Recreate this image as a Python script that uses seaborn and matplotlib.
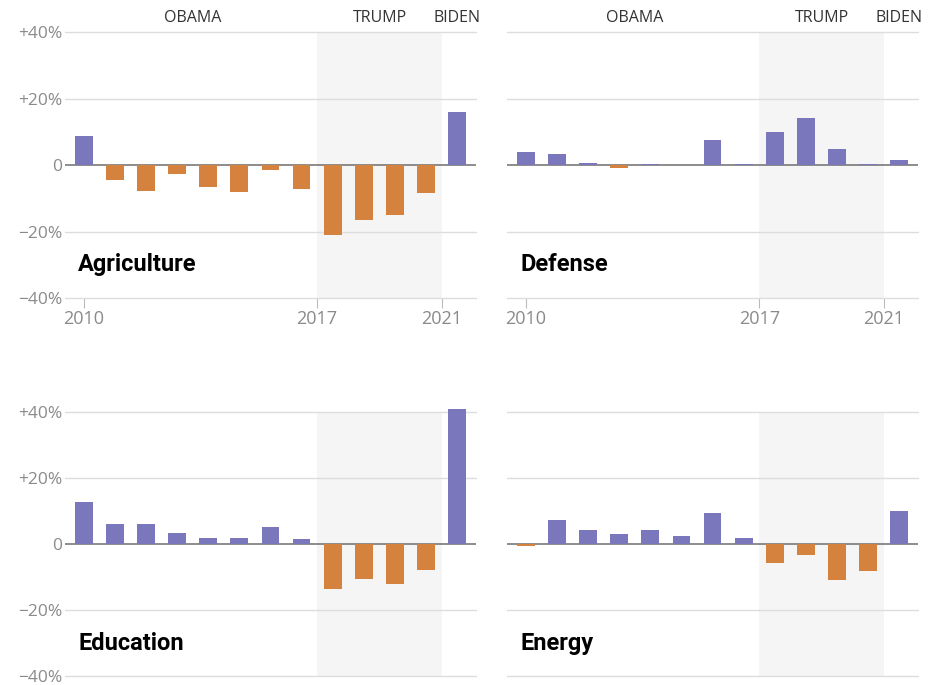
import pandas as pd
import matplotlib
matplotlib.use('Agg')
import matplotlib.pyplot as plt
import seaborn as sns

years = list(range(2010, 2023))

agriculture = [8.7, -4.4, -7.7, -2.7, -6.6, -8.0, -1.4, -7.2, -20.9, -16.4, -14.9, -8.3, 15.9]
defense = [3.8, 3.3, 0.6, -1.0, 0.2, 0.0, 7.6, 0.3, 9.9, 14.1, 4.8, 0.4, 1.5]
education = [12.6, 6.0, 6.0, 3.4, 1.8, 1.8, 5.2, 1.5, -13.6, -10.7, -12.2, -8.0, 40.7]
energy = [-0.6, 7.1, 4.1, 2.9, 4.3, 2.5, 9.4, 1.8, -5.7, -3.5, -10.9, -8.2, 10.0]

panel_names = ['Agriculture', 'Defense', 'Education', 'Energy']
panel_values = [agriculture, defense, education, energy]

y_ticks = [-40, -20, 0, 20, 40]
y_labels = ['\u221240%', '\u221220%', '0', '+20%', '+40%']
x_tick_labels = ['2010', '2017', '2021']
presidents = ['OBAMA', 'TRUMP', 'BIDEN']

PURPLE = '#7b77bd'
ORANGE = '#d4823e'
GRAY_TXT = '#8a8a8a'

sns.set_style('white')
plt.rcParams['font.family'] = ['Open Sans', 'DejaVu Sans']

fig = plt.figure(figsize=(9.32, 6.85), dpi=100)

# axes positions in figure fractions (left, bottom, width, height)
positions = [
    (0.0697, 0.565, 0.441, 0.388),
    (0.544, 0.565, 0.441, 0.388),
    (0.0697, 0.013, 0.441, 0.386),
    (0.544, 0.013, 0.441, 0.386),
]

# tick/shade positions in bar-index units
tick_pos = [0, 7.5, 11.5]
pres_pos = [3.5, 9.5, 12.0]

for i, (name, vals) in enumerate(zip(panel_names, panel_values)):
    ax = fig.add_axes(positions[i])
    df = pd.DataFrame({
        'year': [str(y) for y in years],
        'value': vals,
        'sign': ['pos' if v >= 0 else 'neg' for v in vals],
    })

    # Trump years shading + grid
    ax.axvspan(tick_pos[1], tick_pos[2], color='#f5f5f5', zorder=0, lw=0)
    for yt in y_ticks:
        if yt == 0:
            continue
        ax.axhline(yt, color='#dddddd', lw=1, zorder=1, clip_on=False)
    ax.axhline(0, color='#6e6e6e', lw=1.1, zorder=1.5)

    sns.barplot(data=df, x='year', y='value', hue='sign',
                palette={'pos': PURPLE, 'neg': ORANGE},
                dodge=False, width=0.57, legend=False, ax=ax,
                saturation=1, linewidth=0, zorder=2)
    for p in ax.patches:
        p.set_clip_on(False)

    ax.set_xlim(-0.6, 12.6)
    ax.set_ylim(-40, 40)
    sns.despine(ax=ax, left=True, bottom=True)
    ax.set_xlabel('')
    ax.set_ylabel('')

    ax.set_yticks(y_ticks)
    if i % 2 == 0:
        ax.set_yticklabels(y_labels, fontsize=12.5, color=GRAY_TXT)
        ax.tick_params(axis='y', length=0, pad=2)
    else:
        ax.set_yticklabels([])
        ax.tick_params(axis='y', length=0)

    if i < 2:
        ax.set_xticks(tick_pos)
        ax.set_xticklabels(x_tick_labels, fontsize=13, color=GRAY_TXT)
        ax.tick_params(axis='x', length=7, width=0.8, color='#bbbbbb',
                       pad=2, bottom=True, direction='out')
        for lab, xp in zip(presidents, pres_pos):
            ax.text(xp, 44.3, lab, ha='center', va='center',
                    fontsize=11.5, color='#333333')
    else:
        ax.set_xticks([])

    ax.text(-0.18, -30, name, ha='left', va='center',
            fontsize=17, fontweight='bold', color='black',
            family=['Roboto', 'DejaVu Sans'])

fig.savefig('out.png', dpi=100, facecolor='white')
